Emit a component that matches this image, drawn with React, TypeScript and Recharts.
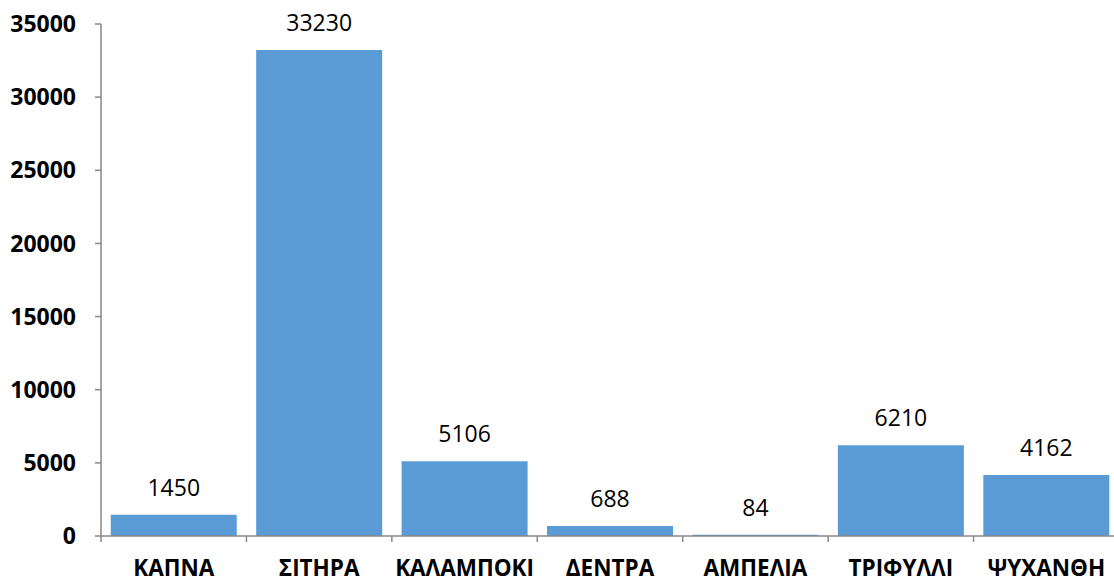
import { BarChart, Bar, XAxis, YAxis, LabelList } from 'recharts'

const categories = ['ΚΑΠΝΑ', 'ΣΙΤΗΡΑ', 'ΚΑΛΑΜΠΟΚΙ', 'ΔΕΝΤΡΑ', 'ΑΜΠΕΛΙΑ', 'ΤΡΙΦΥΛΛΙ', 'ΨΥΧΑΝΘΗ']
const values = [1450, 33230, 5106, 688, 84, 6210, 4162]
const yTicks = [0, 5000, 10000, 15000, 20000, 25000, 30000, 35000]

const data = categories.map((name, i) => ({ name, value: values[i] }))

const AXIS = '#898989'
const FONT = '"Open Sans", "Liberation Sans", sans-serif'

function CategoryTick(props: any) {
  const { x, y, payload } = props
  const half = payload?.offset ?? 0
  const axisY = y - 24
  return (
    <g>
      <line x1={x - half} x2={x - half} y1={axisY} y2={axisY + 6} stroke={AXIS} strokeWidth={1.5} />
      <text
        x={x}
        y={y}
        dy="0.71em"
        textAnchor="middle"
        fill="#000"
        fontFamily={FONT}
        fontWeight={700}
        fontSize={22.5}
      >
        {payload.value}
      </text>
    </g>
  )
}

export default function App() {
  return (
    <div style={{ position: 'absolute', left: 0, top: 0, width: 1114, height: 578, overflow: 'hidden', background: '#fff' }}>
      <BarChart
        width={1121}
        height={578}
        data={data}
        margin={{ top: 24, right: 2, bottom: 0, left: 0 }}
        barCategoryGap="6.7%"
      >
        <XAxis
          dataKey="name"
          height={42}
          stroke={AXIS}
          strokeWidth={1.5}
          tickLine={false}
          tickSize={6}
          tickMargin={18}
          tick={<CategoryTick />}
          interval={0}
        />
        <YAxis
          domain={[0, 35000]}
          ticks={yTicks}
          width={101}
          stroke={AXIS}
          strokeWidth={1.5}
          tickSize={6}
          tickMargin={19}
          tick={{ fill: '#000', fontFamily: FONT, fontWeight: 700, fontSize: 23 }}
        />
        <Bar dataKey="value" fill="#5B9BD5" isAnimationActive={false}>
          <LabelList
            dataKey="value"
            position="top"
            offset={19}
            fill="#000"
            fontFamily={FONT}
            fontSize={23}
          />
        </Bar>
      </BarChart>
    </div>
  )
}
